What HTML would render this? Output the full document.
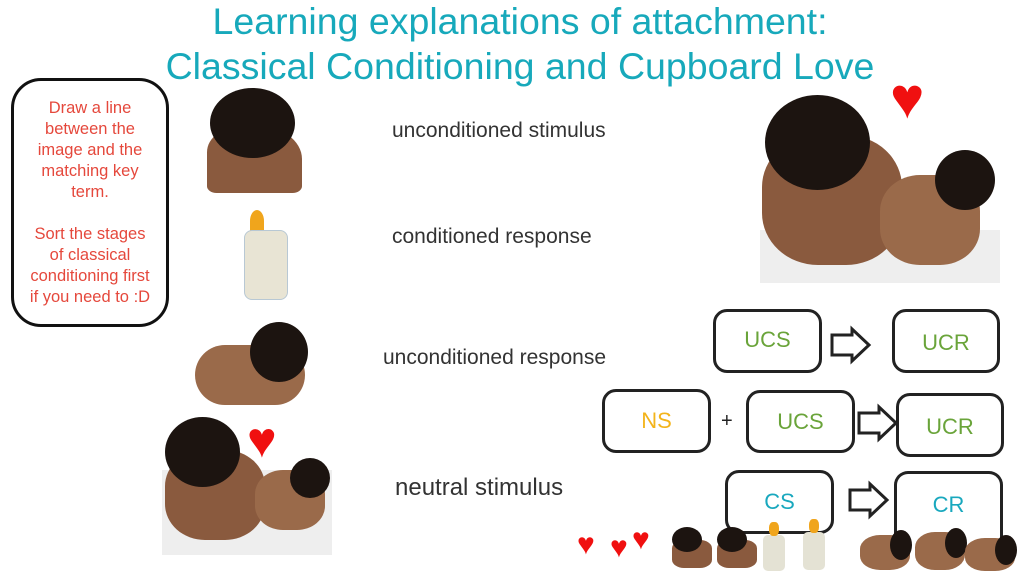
<!DOCTYPE html>
<html><head><style>
body{margin:0;width:1024px;height:573px;background:#fff;position:relative;overflow:hidden;font-family:"Liberation Sans",sans-serif}
.a{position:absolute}
.t{color:#17a9bb;font-size:37.5px;text-align:center;width:1024px;left:8px}
.lb{left:11px;top:78px;width:158px;height:249px;border:3px solid #111;border-radius:30px;color:#e5483c;font-size:16.5px;text-align:center;line-height:21px;padding-top:17px;box-sizing:border-box}
.term{color:#333;font-size:21px}
.bx{border:3px solid #222;border-radius:14px;box-sizing:border-box;font-size:22px;text-align:center}
.g{color:#6aa43a}.o{color:#f3b41b}.c{color:#19a8be}
.skin{background:#8a5a3e}.hair{background:#1c1410}
</style></head><body>
<div class="a t" style="top:0px">Learning explanations of attachment:</div>
<div class="a t" style="top:45px">Classical Conditioning and Cupboard Love</div>
<div class="a lb">Draw a line<br>between the<br>image and the<br>matching key<br>term.<br><br>Sort the stages<br>of classical<br>conditioning first<br>if you need to :D</div>

<div class="a term" style="left:392px;top:119px">unconditioned stimulus</div>
<div class="a term" style="left:392px;top:225px">conditioned response</div>
<div class="a term" style="left:383px;top:346px">unconditioned response</div>
<div class="a term" style="left:395px;top:474px;font-size:24px">neutral stimulus</div>

<!-- mother -->
<div class="a skin" style="left:207px;top:125px;width:95px;height:68px;border-radius:40% 50% 10% 10%"></div>
<div class="a hair" style="left:210px;top:88px;width:85px;height:70px;border-radius:50%"></div>
<!-- bottle -->
<div class="a" style="left:250px;top:210px;width:14px;height:22px;background:#f0a51c;border-radius:50% 50% 10% 10%"></div>
<div class="a" style="left:244px;top:230px;width:42px;height:68px;background:#e8e4d4;border:1px solid #b8c8d4;border-radius:8px"></div>
<!-- baby -->
<div class="a skin" style="left:195px;top:345px;width:110px;height:60px;border-radius:30px;background:#9a6a4a"></div>
<div class="a hair" style="left:250px;top:322px;width:58px;height:60px;border-radius:50%"></div>
<!-- mother+baby small -->
<div class="a" style="left:162px;top:470px;width:170px;height:85px;background:#eee"></div>
<div class="a skin" style="left:165px;top:450px;width:100px;height:90px;border-radius:40%"></div>
<div class="a hair" style="left:165px;top:417px;width:75px;height:70px;border-radius:50%"></div>
<div class="a skin" style="left:255px;top:470px;width:70px;height:60px;border-radius:40%;background:#9a6a4a"></div>
<div class="a hair" style="left:290px;top:458px;width:40px;height:40px;border-radius:50%"></div>
<div class="a" style="left:247px;top:415px;color:#f01010;font-size:50px;line-height:50px">♥</div>
<!-- big image -->
<div class="a" style="left:760px;top:230px;width:240px;height:53px;background:#eee"></div>
<div class="a skin" style="left:762px;top:135px;width:140px;height:130px;border-radius:40%"></div>
<div class="a hair" style="left:765px;top:95px;width:105px;height:95px;border-radius:50%"></div>
<div class="a skin" style="left:880px;top:175px;width:100px;height:90px;border-radius:40%;background:#9a6a4a"></div>
<div class="a hair" style="left:935px;top:150px;width:60px;height:60px;border-radius:50%"></div>
<div class="a" style="left:890px;top:70px;color:#f01010;font-size:58px;line-height:58px">♥</div>

<!-- boxes -->
<div class="a bx g" style="left:713px;top:309px;width:109px;height:64px;line-height:56px">UCS</div>
<div class="a bx g" style="left:892px;top:309px;width:108px;height:64px;line-height:62px">UCR</div>
<div class="a bx o" style="left:602px;top:389px;width:109px;height:64px;line-height:58px">NS</div>
<div class="a" style="left:721px;top:410px;font-size:20px;color:#222">+</div>
<div class="a bx g" style="left:746px;top:390px;width:109px;height:63px;line-height:57px">UCS</div>
<div class="a bx g" style="left:896px;top:393px;width:108px;height:64px;line-height:62px">UCR</div>
<div class="a bx c" style="left:725px;top:470px;width:109px;height:64px;line-height:58px">CS</div>
<div class="a bx c" style="left:894px;top:471px;width:109px;height:70px;line-height:62px;border-bottom:none;border-radius:14px 14px 0 0">CR</div>
<svg class="a" style="left:0;top:0" width="1024" height="573">
<g fill="none" stroke="#222" stroke-width="3" stroke-linejoin="miter">
<path d="M832 335h20v-6l17 16-17 16v-6h-20z"/>
<path d="M859 413h20v-6l17 16-17 16v-6h-20z"/>
<path d="M850 490h20v-6l17 16-17 16v-6h-20z"/>
</g></svg>
<!-- bottom strip -->
<div class="a" style="left:577px;top:530px;color:#f01010;font-size:30px;line-height:30px">♥</div>
<div class="a" style="left:610px;top:533px;color:#f01010;font-size:30px;line-height:30px">♥</div>
<div class="a" style="left:632px;top:525px;color:#f01010;font-size:30px;line-height:30px">♥</div>
<div class="a skin" style="left:672px;top:540px;width:40px;height:28px;border-radius:30%"></div>
<div class="a hair" style="left:672px;top:527px;width:30px;height:25px;border-radius:50%"></div>
<div class="a skin" style="left:717px;top:540px;width:40px;height:28px;border-radius:30%"></div>
<div class="a hair" style="left:717px;top:527px;width:30px;height:25px;border-radius:50%"></div>
<div class="a" style="left:763px;top:535px;width:22px;height:36px;background:#e4e2d4;border-radius:5px"></div>
<div class="a" style="left:769px;top:522px;width:10px;height:14px;background:#f0a51c;border-radius:40%"></div>
<div class="a" style="left:803px;top:532px;width:22px;height:38px;background:#e4e2d4;border-radius:5px"></div>
<div class="a" style="left:809px;top:519px;width:10px;height:14px;background:#f0a51c;border-radius:40%"></div>
<div class="a" style="left:860px;top:535px;width:50px;height:35px;background:#9a6a4a;border-radius:40%"></div>
<div class="a hair" style="left:890px;top:530px;width:22px;height:30px;border-radius:50%"></div>
<div class="a" style="left:915px;top:532px;width:50px;height:38px;background:#9a6a4a;border-radius:40%"></div>
<div class="a hair" style="left:945px;top:528px;width:22px;height:30px;border-radius:50%"></div>
<div class="a" style="left:965px;top:538px;width:50px;height:33px;background:#9a6a4a;border-radius:40%"></div>
<div class="a hair" style="left:995px;top:535px;width:22px;height:30px;border-radius:50%"></div>
</body></html>
